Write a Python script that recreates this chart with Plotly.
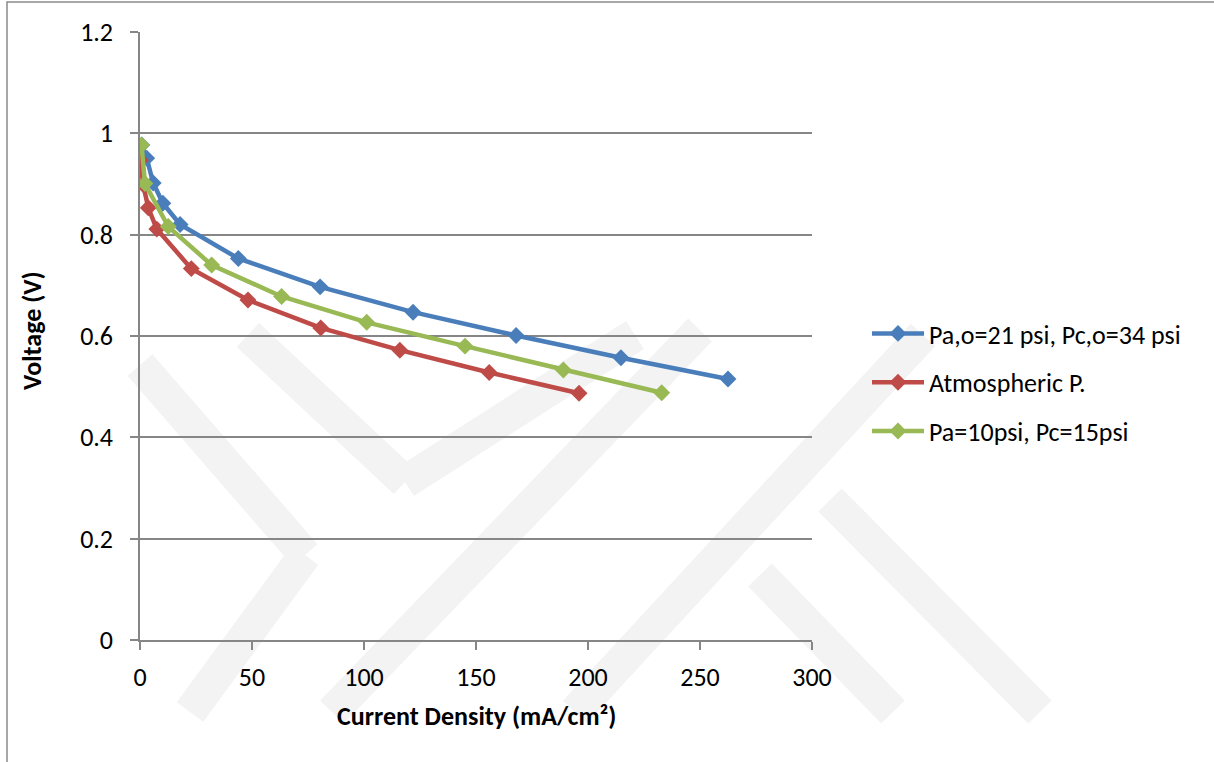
import plotly.graph_objects as go

# ---- data ----
blue_name = "Pa,o=21 psi, Pc,o=34 psi"
blue_x = [0.8, 3.0, 5.9, 10.2, 17.9, 43.9, 80.4, 121.9, 167.9, 214.7, 262.5]
blue_y = [0.977, 0.951, 0.902, 0.862, 0.820, 0.753, 0.697, 0.647, 0.601, 0.557, 0.515]

red_name = "Atmospheric P."
red_x = [0.2, 1.4, 3.7, 7.5, 22.9, 48.2, 80.7, 116.0, 155.9, 196.0]
red_y = [0.947, 0.899, 0.853, 0.811, 0.733, 0.671, 0.616, 0.572, 0.528, 0.487]

green_name = "Pa=10psi, Pc=15psi"
green_x = [0.7, 2.2, 12.6, 32.0, 63.2, 101.2, 145.1, 189.0, 232.9]
green_y = [0.977, 0.901, 0.816, 0.740, 0.678, 0.627, 0.580, 0.533, 0.488]

x_title = "Current Density (mA/cm²)"
y_title = "Voltage (V)"

# ---- layout geometry ----
W, H = 1214, 762
L, R, T, B = 140, 812, 32, 640

def px2paper(px, py):
    return (px - L) / (R - L), (B - py) / (B - T)

FONT = "Carlito, Calibri, Lato, sans-serif"

fig = go.Figure()
series = [
    (blue_name, blue_x, blue_y, "#4a7ebb"),
    (red_name, red_x, red_y, "#be4b48"),
    (green_name, green_x, green_y, "#98b954"),
]
for i, (nm, xs, ys, col) in enumerate(series):
    fig.add_trace(go.Scatter(
        x=xs, y=ys, name=nm, mode="lines+markers",
        line=dict(color=col, width=4.5),
        marker=dict(symbol="diamond", size=13, color=col),
        legendgroup=f"g{i}",
    ))

# faint watermark bands (decoration)
bands = [
    ((248, 335), (405, 482)),
    ((405, 482), (635, 335)),
    ((140, 365), (305, 555)),
    ((305, 555), (190, 712)),
    ((332, 712), (700, 330)),
    ((923, 335), (575, 712)),
    ((760, 575), (893, 712)),
    ((830, 500), (1040, 712)),
]
shapes = []
for (a, b) in bands:
    x0, y0 = px2paper(*a)
    x1, y1 = px2paper(*b)
    shapes.append(dict(type="line", xref="paper", yref="paper",
                       x0=x0, y0=y0, x1=x1, y1=y1,
                       line=dict(color="#f3f3f3", width=33), layer="below"))
# outer frame (left and top edge visible)
fx0, fy0 = px2paper(7, 2)
fx1, fy1 = px2paper(1300, 800)
shapes.append(dict(type="rect", xref="paper", yref="paper",
                   x0=fx0, y0=fy1, x1=fx1, y1=fy0,
                   line=dict(color="#8a8a8a", width=1.5), layer="below"))

ax_x, ax_y = px2paper(32, 330)
tx_x, tx_y = px2paper(476, 716)
annotations = [
    dict(text=f"<b>{y_title}</b>", xref="paper", yref="paper", x=ax_x, y=ax_y,
         textangle=-90, showarrow=False, xanchor="center", yanchor="middle",
         font=dict(family=FONT, size=26, color="#000")),
    dict(text=f"<b>{x_title}</b>", xref="paper", yref="paper", x=tx_x, y=tx_y,
         showarrow=False, xanchor="center", yanchor="middle",
         font=dict(family=FONT, size=26, color="#000")),
]

lgx, lgy = px2paper(867, 310)

fig.update_layout(
    width=W, height=H,
    margin=dict(l=L, r=W - R, t=T, b=H - B),
    paper_bgcolor="white", plot_bgcolor="rgba(0,0,0,0)",
    showlegend=True,
    legend=dict(x=lgx, y=lgy, xanchor="left", yanchor="top",
                font=dict(family=FONT, size=26, color="#000"),
                itemwidth=52, tracegroupgap=12, bgcolor="rgba(0,0,0,0)"),
    shapes=shapes,
    annotations=annotations,
    xaxis=dict(range=[0, 300], dtick=50, tick0=0, showgrid=False, zeroline=False,
               showline=True, linecolor="#868686", linewidth=1.5,
               ticks="outside", ticklen=8, tickcolor="#868686", tickwidth=1.5,
               ticklabelstandoff=5,
               tickfont=dict(family=FONT, size=26, color="#000")),
    yaxis=dict(range=[0, 1.2], dtick=0.2, tick0=0, showgrid=True,
               gridcolor="#868686", gridwidth=1.5, zeroline=False,
               showline=True, linecolor="#868686", linewidth=1.5,
               ticks="outside", ticklen=8, tickcolor="#868686", tickwidth=1.5,
               ticklabelstandoff=12,
               tickfont=dict(family=FONT, size=26, color="#000")),
)

fig.write_html("out.html", config={"displayModeBar": False},
               post_script="document.body.style.margin='0px';")
